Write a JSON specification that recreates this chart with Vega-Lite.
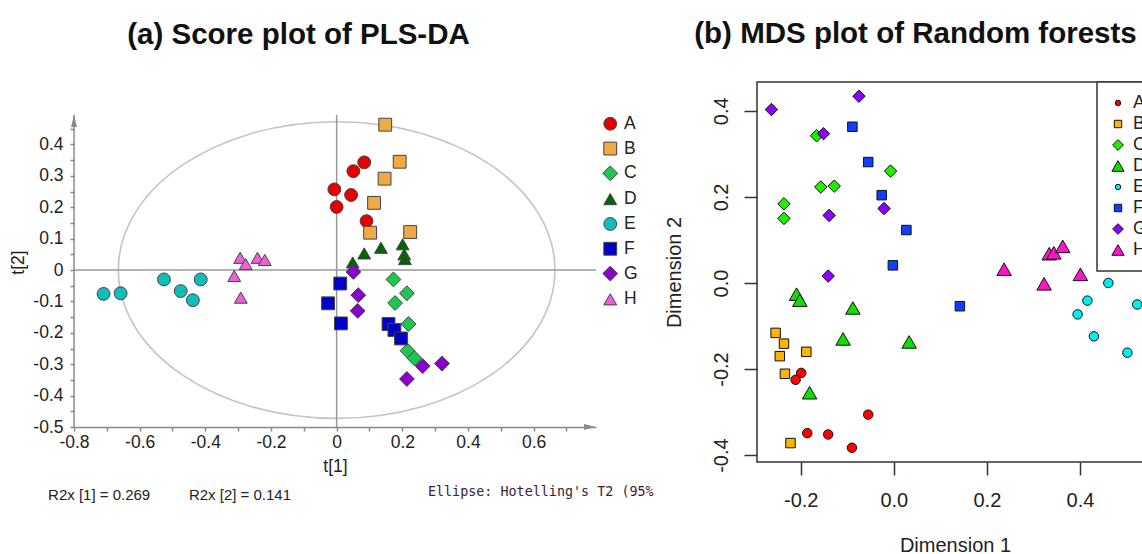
{
  "$schema": "https://vega.github.io/schema/vega-lite/v6.json",
  "padding": {"left": 9, "top": 18, "right": 5, "bottom": 5},
  "background": "white",
  "spacing": 9,
  "config": {
    "font": "Liberation Sans",
    "view": {"stroke": null},
    "axis": {"grid": false, "labelFlush": false, "labelOverlap": false, "labelFont": "Liberation Sans", "titleFont": "Liberation Sans", "titleFontWeight": "normal"}
  },
  "resolve": {"scale": {"color": "independent", "shape": "independent"}},
  "datasets": {
    "pls": [
      {"g": "A", "t1": -0.007, "t2": 0.257}, {"g": "A", "t1": 0.000, "t2": 0.201}, {"g": "A", "t1": 0.044, "t2": 0.239},
      {"g": "A", "t1": 0.051, "t2": 0.315}, {"g": "A", "t1": 0.084, "t2": 0.343}, {"g": "A", "t1": 0.091, "t2": 0.156},
      {"g": "B", "t1": 0.148, "t2": 0.463}, {"g": "B", "t1": 0.192, "t2": 0.345}, {"g": "B", "t1": 0.146, "t2": 0.291},
      {"g": "B", "t1": 0.114, "t2": 0.214}, {"g": "B", "t1": 0.102, "t2": 0.119}, {"g": "B", "t1": 0.224, "t2": 0.121},
      {"g": "C", "t1": 0.173, "t2": -0.030}, {"g": "C", "t1": 0.214, "t2": -0.074}, {"g": "C", "t1": 0.178, "t2": -0.105},
      {"g": "C", "t1": 0.219, "t2": -0.172}, {"g": "C", "t1": 0.216, "t2": -0.257}, {"g": "C", "t1": 0.237, "t2": -0.281},
      {"g": "D", "t1": 0.049, "t2": 0.024}, {"g": "D", "t1": 0.084, "t2": 0.053}, {"g": "D", "t1": 0.135, "t2": 0.071},
      {"g": "D", "t1": 0.201, "t2": 0.082}, {"g": "D", "t1": 0.206, "t2": 0.050}, {"g": "D", "t1": 0.208, "t2": 0.035},
      {"g": "E", "t1": -0.710, "t2": -0.076}, {"g": "E", "t1": -0.658, "t2": -0.074}, {"g": "E", "t1": -0.526, "t2": -0.030},
      {"g": "E", "t1": -0.475, "t2": -0.067}, {"g": "E", "t1": -0.438, "t2": -0.096}, {"g": "E", "t1": -0.414, "t2": -0.030},
      {"g": "F", "t1": 0.011, "t2": -0.043}, {"g": "F", "t1": -0.026, "t2": -0.106}, {"g": "F", "t1": 0.013, "t2": -0.170},
      {"g": "F", "t1": 0.158, "t2": -0.172}, {"g": "F", "t1": 0.176, "t2": -0.191}, {"g": "F", "t1": 0.196, "t2": -0.218},
      {"g": "G", "t1": 0.051, "t2": -0.006}, {"g": "G", "t1": 0.066, "t2": -0.080}, {"g": "G", "t1": 0.064, "t2": -0.130},
      {"g": "G", "t1": 0.262, "t2": -0.306}, {"g": "G", "t1": 0.321, "t2": -0.298}, {"g": "G", "t1": 0.214, "t2": -0.347},
      {"g": "H", "t1": -0.294, "t2": 0.039}, {"g": "H", "t1": -0.277, "t2": 0.019}, {"g": "H", "t1": -0.241, "t2": 0.039},
      {"g": "H", "t1": -0.219, "t2": 0.032}, {"g": "H", "t1": -0.312, "t2": -0.019}, {"g": "H", "t1": -0.292, "t2": -0.088}
    ],
    "mds": [
      {"g": "A", "d1": -0.199, "d2": -0.209}, {"g": "A", "d1": -0.211, "d2": -0.225}, {"g": "A", "d1": -0.055, "d2": -0.306},
      {"g": "A", "d1": -0.186, "d2": -0.349}, {"g": "A", "d1": -0.141, "d2": -0.352}, {"g": "A", "d1": -0.090, "d2": -0.383},
      {"g": "B", "d1": -0.254, "d2": -0.116}, {"g": "B", "d1": -0.236, "d2": -0.141}, {"g": "B", "d1": -0.245, "d2": -0.170},
      {"g": "B", "d1": -0.188, "d2": -0.160}, {"g": "B", "d1": -0.234, "d2": -0.211}, {"g": "B", "d1": -0.222, "d2": -0.372},
      {"g": "C", "d1": -0.166, "d2": 0.342}, {"g": "C", "d1": -0.236, "d2": 0.184}, {"g": "C", "d1": -0.236, "d2": 0.150},
      {"g": "C", "d1": -0.157, "d2": 0.223}, {"g": "C", "d1": -0.128, "d2": 0.225}, {"g": "C", "d1": -0.007, "d2": 0.260},
      {"g": "D", "d1": -0.209, "d2": -0.026}, {"g": "D", "d1": -0.202, "d2": -0.040}, {"g": "D", "d1": -0.088, "d2": -0.058},
      {"g": "D", "d1": -0.109, "d2": -0.130}, {"g": "D", "d1": 0.033, "d2": -0.137}, {"g": "D", "d1": -0.181, "d2": -0.255},
      {"g": "E", "d1": 0.461, "d2": 0.000}, {"g": "E", "d1": 0.416, "d2": -0.041}, {"g": "E", "d1": 0.523, "d2": -0.050},
      {"g": "E", "d1": 0.395, "d2": -0.073}, {"g": "E", "d1": 0.430, "d2": -0.124}, {"g": "E", "d1": 0.502, "d2": -0.162},
      {"g": "F", "d1": -0.089, "d2": 0.363}, {"g": "F", "d1": -0.055, "d2": 0.281}, {"g": "F", "d1": -0.026, "d2": 0.204},
      {"g": "F", "d1": 0.027, "d2": 0.123}, {"g": "F", "d1": -0.002, "d2": 0.041}, {"g": "F", "d1": 0.142, "d2": -0.054},
      {"g": "G", "d1": -0.263, "d2": 0.403}, {"g": "G", "d1": -0.075, "d2": 0.434}, {"g": "G", "d1": -0.151, "d2": 0.347},
      {"g": "G", "d1": -0.139, "d2": 0.157}, {"g": "G", "d1": -0.021, "d2": 0.173}, {"g": "G", "d1": -0.141, "d2": 0.016},
      {"g": "H", "d1": 0.237, "d2": 0.032}, {"g": "H", "d1": 0.323, "d2": -0.002}, {"g": "H", "d1": 0.334, "d2": 0.068},
      {"g": "H", "d1": 0.344, "d2": 0.070}, {"g": "H", "d1": 0.363, "d2": 0.085}, {"g": "H", "d1": 0.401, "d2": 0.020}
    ]
  },
  "hconcat": [
    {
      "width": 522,
      "height": 345,
      "view": {"stroke": null},
      "title": {"text": "(a) Score plot of PLS-DA", "font": "Liberation Sans", "fontSize": 29.5, "fontWeight": "bold", "color": "#111", "anchor": "middle", "frame": "group", "offset": 32, "dx": -36.5},
      "layer": [
        {
          "data": {"values": [{"t1": 0, "t2": 0}]},
          "mark": {"type": "point", "shape": "M-1,0C-1,-0.3752,-0.5523,-0.6793,0,-0.6793C0.5523,-0.6793,1,-0.3752,1,0C1,0.3752,0.5523,0.6793,0,0.6793C-0.5523,0.6793,-1,0.3752,-1,0Z", "size": 190620, "filled": false, "color": "#c4c4c4", "strokeWidth": 1.6, "opacity": 1},
          "encoding": {
            "x": {"field": "t1", "type": "quantitative", "scale": {"domain": [-0.8, 0.79], "nice": false, "zero": false},
              "axis": {"title": "t[1]", "tickCount": 100, "values": [-0.8, -0.7, -0.6, -0.5, -0.4, -0.3, -0.2, -0.1, 0, 0.1, 0.2, 0.3, 0.4, 0.5, 0.6, 0.7],
                "labelExpr": "round(datum.value*10) % 2 == 0 ? (datum.value == 0 ? '0' : '' + datum.value) : ''",
                "domainColor": "#8a8a8a", "domainWidth": 1.5, "tickColor": "#8a8a8a", "tickWidth": 1.5, "tickSize": 4,
                "labelFontSize": 17.5, "labelColor": "#222", "labelPadding": 2, "labelOverlap": false,
                "titleFontSize": 17.5, "titleColor": "#222", "titlePadding": 7}},
            "y": {"field": "t2", "type": "quantitative", "scale": {"domain": [-0.5, 0.599], "nice": false, "zero": false},
              "axis": {"title": "t[2]", "titleY": 180, "domain": false, "tickCount": 100,
                "values": [-0.5, -0.45, -0.4, -0.35, -0.3, -0.25, -0.2, -0.15, -0.1, -0.05, 0, 0.05, 0.1, 0.15, 0.2, 0.25, 0.3, 0.35, 0.4, 0.45],
                "labelExpr": "abs(datum.value*10 - round(datum.value*10)) < 0.001 ? (datum.value == 0 ? '0' : '' + datum.value) : ''",
                "tickColor": "#8a8a8a", "tickWidth": 1.5, "tickSize": 4,
                "labelFontSize": 17.5, "labelColor": "#222", "labelPadding": 7, "labelOverlap": false,
                "titleFontSize": 17.5, "titleColor": "#222", "titlePadding": 5}}
          }
        },
        {
          "data": {"values": [{}]},
          "mark": {"type": "rule", "color": "#999", "strokeWidth": 1.5},
          "encoding": {
            "x": {"datum": 0, "type": "quantitative", "scale": {"domain": [-0.8, 0.79], "nice": false, "zero": false}},
            "y": {"datum": -0.5, "type": "quantitative", "scale": {"domain": [-0.5, 0.599], "nice": false, "zero": false}},
            "y2": {"datum": 0.494}
          }
        },
        {
          "data": {"values": [{}]},
          "mark": {"type": "rule", "color": "#999", "strokeWidth": 1.5},
          "encoding": {"y": {"datum": 0, "type": "quantitative", "scale": {"domain": [-0.5, 0.599], "nice": false, "zero": false}}}
        },
        {
          "data": {"values": [{}]},
          "mark": {"type": "rule", "color": "#8a8a8a", "strokeWidth": 1.5},
          "encoding": {
            "x": {"datum": -0.8, "type": "quantitative", "scale": {"domain": [-0.8, 0.79], "nice": false, "zero": false}},
            "y": {"datum": -0.5, "type": "quantitative", "scale": {"domain": [-0.5, 0.599], "nice": false, "zero": false}},
            "y2": {"datum": 0.494}
          }
        },
        {
          "data": {"name": "pls"},
          "mark": {"type": "point", "filled": true, "stroke": "#444", "strokeWidth": 1, "opacity": 1},
          "encoding": {
            "x": {"field": "t1", "type": "quantitative", "scale": {"domain": [-0.8, 0.79], "nice": false, "zero": false}},
            "y": {"field": "t2", "type": "quantitative", "scale": {"domain": [-0.5, 0.599], "nice": false, "zero": false}},
            "color": {"field": "g", "type": "nominal",
              "scale": {"domain": ["A", "B", "C", "D", "E", "F", "G", "H"], "range": ["#e60000", "#f0aa44", "#1ec850", "#006400", "#10bcbc", "#0000c8", "#8a00cc", "#ee5fd8"]},
              "legend": {"title": null, "orient": "none", "legendX": 527.5, "legendY": 33, "padding": 0,
                "labelFont": "Liberation Sans", "labelFontSize": 17.5, "labelColor": "#222", "labelOffset": 5, "rowPadding": 5.8,
                "symbolSize": 220, "symbolStrokeColor": "#444", "symbolStrokeWidth": 1, "symbolOpacity": 1,
                "encode": {"symbols": {"update": {"size": {"signal": "datum.value == 'C' || datum.value == 'G' ? 220 : 165"}}}}}},
            "shape": {"field": "g", "type": "nominal",
              "scale": {"domain": ["A", "B", "C", "D", "E", "F", "G", "H"], "range": ["circle", "square", "diamond", "triangle-up", "circle", "square", "diamond", "triangle-up"]}},
            "size": {"condition": {"test": "datum.g == 'C' || datum.g == 'G'", "value": 220}, "value": 165}
          }
        },
        {
          "data": {"values": [{}]},
          "mark": {"type": "point", "shape": "M0,0L-0.5,2L0.5,2Z", "size": 144, "filled": true, "color": "#8a8a8a", "opacity": 1},
          "encoding": {
            "x": {"datum": -0.8, "type": "quantitative", "scale": {"domain": [-0.8, 0.79], "nice": false, "zero": false}},
            "y": {"datum": 0.494, "type": "quantitative", "scale": {"domain": [-0.5, 0.599], "nice": false, "zero": false}}
          }
        },
        {
          "data": {"values": [{}]},
          "mark": {"type": "point", "shape": "M0,0L-2,-0.5L-2,0.5Z", "size": 144, "filled": true, "color": "#8a8a8a", "opacity": 1},
          "encoding": {
            "x": {"datum": 0.79, "type": "quantitative", "scale": {"domain": [-0.8, 0.79], "nice": false, "zero": false}},
            "y": {"datum": -0.5, "type": "quantitative", "scale": {"domain": [-0.5, 0.599], "nice": false, "zero": false}}
          }
        },
        {
          "data": {"values": [{"note": "R2x [1] = 0.269"}]},
          "mark": {"type": "text", "align": "left", "baseline": "middle", "font": "Liberation Sans", "fontSize": 15, "color": "#222"},
          "encoding": {
            "text": {"field": "note"},
            "x": {"datum": -0.879, "type": "quantitative", "scale": {"domain": [-0.8, 0.79], "nice": false, "zero": false}},
            "y": {"datum": -0.7175, "type": "quantitative", "scale": {"domain": [-0.5, 0.599], "nice": false, "zero": false}}
          }
        },
        {
          "data": {"values": [{"note": "R2x [2] = 0.141"}]},
          "mark": {"type": "text", "align": "left", "baseline": "middle", "font": "Liberation Sans", "fontSize": 15, "color": "#222"},
          "encoding": {
            "text": {"field": "note"},
            "x": {"datum": -0.45, "type": "quantitative", "scale": {"domain": [-0.8, 0.79], "nice": false, "zero": false}},
            "y": {"datum": -0.7175, "type": "quantitative", "scale": {"domain": [-0.5, 0.599], "nice": false, "zero": false}}
          }
        },
        {
          "data": {"values": [{"note": "Ellipse: Hotelling's T2 (95%"}]},
          "mark": {"type": "text", "align": "left", "baseline": "middle", "font": "DejaVu Sans Mono", "fontSize": 13.4, "color": "#3a2238"},
          "encoding": {
            "text": {"field": "note"},
            "x": {"datum": 0.278, "type": "quantitative", "scale": {"domain": [-0.8, 0.79], "nice": false, "zero": false}},
            "y": {"datum": -0.707, "type": "quantitative", "scale": {"domain": [-0.5, 0.599], "nice": false, "zero": false}}
          }
        }
      ]
    },
    {
      "width": 396,
      "height": 380,
      "view": {"stroke": "#333", "strokeWidth": 1.5},
      "title": {"text": "(b) MDS plot of Random forests", "font": "Liberation Sans", "fontSize": 29.5, "fontWeight": "bold", "color": "#111", "anchor": "middle", "frame": "group", "offset": 32, "dx": -39.5},
      "data": {"name": "mds"},
      "mark": {"type": "point", "filled": true, "stroke": "#111", "strokeWidth": 1, "opacity": 1},
      "encoding": {
        "x": {"field": "d1", "type": "quantitative", "scale": {"domain": [-0.294, 0.557], "nice": false, "zero": false},
          "axis": {"title": "Dimension 1", "values": [-0.2, 0, 0.2, 0.4], "tickCount": 100,
            "labelExpr": "datum.value == 0 ? '0.0' : '' + datum.value",
            "domain": false, "tickColor": "#333", "tickWidth": 1.5, "tickSize": 13,
            "labelFontSize": 20, "labelColor": "#222", "labelPadding": 15.5,
            "titleFontSize": 20, "titleColor": "#222", "titlePadding": 25}},
        "y": {"field": "d2", "type": "quantitative", "scale": {"domain": [-0.416, 0.467], "nice": false, "zero": false},
          "axis": {"title": "Dimension 2", "values": [-0.4, -0.2, 0, 0.2, 0.4], "tickCount": 100,
            "labelExpr": "datum.value == 0 ? '0.0' : '' + datum.value",
            "labelAngle": 270, "labelAlign": "center", "labelBaseline": "bottom",
            "domain": false, "tickColor": "#333", "tickWidth": 1.5, "tickSize": 13,
            "labelFontSize": 20, "labelColor": "#222", "labelPadding": 13,
            "titleFontSize": 20, "titleColor": "#222", "titlePadding": 27}},
        "color": {"field": "g", "type": "nominal",
          "scale": {"domain": ["A", "B", "C", "D", "E", "F", "G", "H"], "range": ["#ff0000", "#ffb300", "#22ee00", "#11dd00", "#00eeee", "#1040ff", "#8c00ff", "#ff14c8"]},
          "legend": {"title": null, "orient": "none", "legendX": 340, "legendY": 0, "padding": 12, "strokeColor": "#333", "fillColor": "white",
            "labelFont": "Liberation Sans", "labelFontSize": 18, "labelColor": "#222", "labelOffset": 6, "rowPadding": 3,
            "symbolSize": 150, "symbolStrokeColor": "#111", "symbolStrokeWidth": 1, "symbolOpacity": 1,
            "encode": {"legend": {"update": {"strokeWidth": {"value": 1.5}}},
              "symbols": {"update": {"size": {"signal": "datum.value == 'A' || datum.value == 'E' ? 30 : (datum.value == 'B' || datum.value == 'F') ? 55 : (datum.value == 'C' || datum.value == 'G') ? 115 : 150"}}}}}},
        "shape": {"field": "g", "type": "nominal",
          "scale": {"domain": ["A", "B", "C", "D", "E", "F", "G", "H"], "range": ["circle", "square", "diamond", "triangle-up", "circle", "square", "diamond", "triangle-up"]}},
        "size": {"condition": [{"test": "datum.g == 'C' || datum.g == 'G'", "value": 155}, {"test": "datum.g == 'D' || datum.g == 'H'", "value": 210}], "value": 90}
      }
    }
  ]
}
